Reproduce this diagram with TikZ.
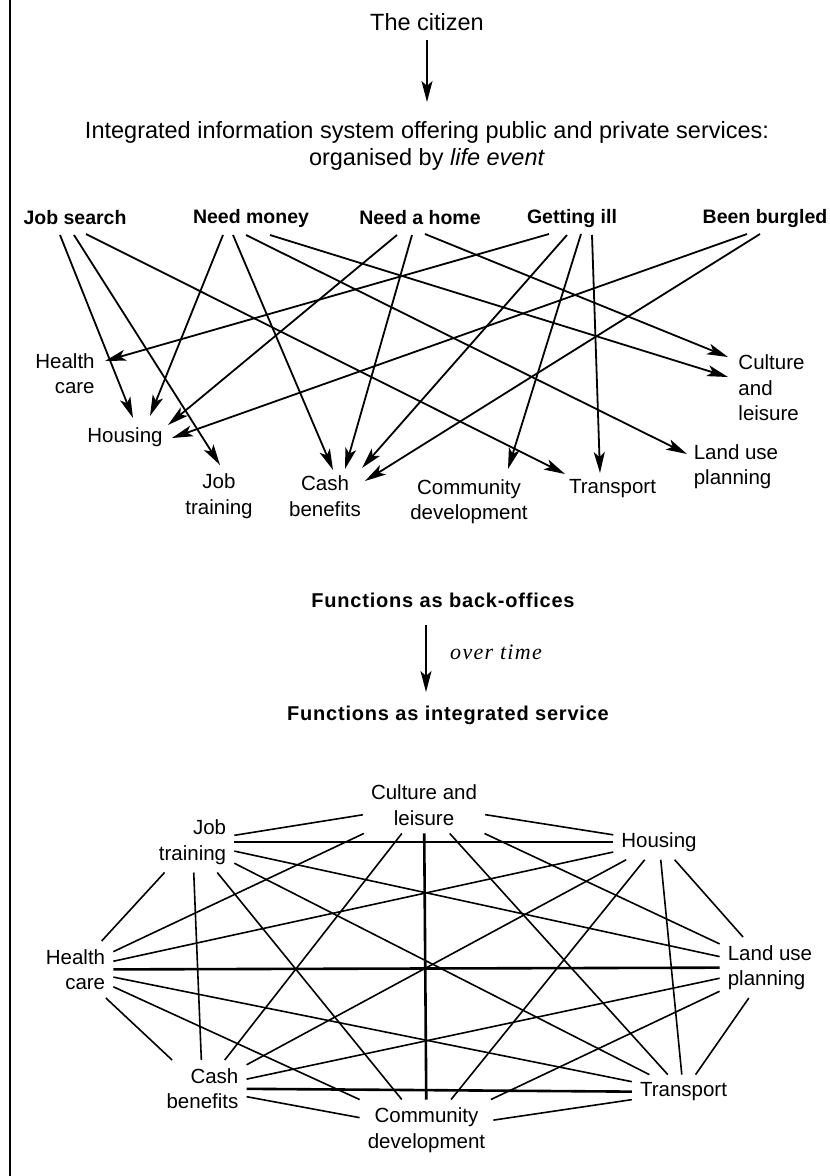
\documentclass[tikz,border=0pt]{standalone}
\usepackage{fontspec}
\setmainfont{Liberation Sans}
\newfontfamily\spacedsans[LetterSpace=4]{Liberation Sans}
\newfontfamily\spacedserif[LetterSpace=6]{Liberation Serif}
\usepackage{tikz}
\usetikzlibrary{arrows.meta,calc,positioning}

\tikzset{
  heading/.style={font=\fontsize{23.5}{27}\selectfont, align=center, inner sep=0pt},
  lifeevent/.style={font=\fontsize{19.5}{23}\selectfont\bfseries, inner sep=0pt},
  stage/.style={font=\fontsize{20}{24}\selectfont\spacedsans\bfseries, inner sep=0pt},
  service/.style={font=\fontsize{20.5}{25.5}\selectfont, inner sep=0pt},
  netservice/.style={service, inner sep=8pt},
  evarrow/.style={line width=1.8pt, -{Stealth[length=21pt,width=11pt,inset=5pt]}},
  link/.style={line width=1.6pt},
  mainlink/.style={line width=2.6pt},
}

\begin{document}
\begin{tikzpicture}[x=1pt,y=-1pt]
\useasboundingbox (0,0) rectangle (830,1176);
\draw[line width=2pt] (10,0) -- (10,1176);

% the citizen and the portal
\node[heading] (cit) at (427,22) {The citizen};
\node[heading] (iis) at (427,146) {Integrated information system offering public and private services:\\organised by \textit{life event}};
\draw[evarrow] ($(cit)+(0,18)$) -- ($(iis)+(0,-44)$);

% life events
\node[lifeevent] (js) at (75,218) {Job search};
\node[lifeevent] (nm) at (251,218) {Need money};
\node[lifeevent] (nh) at (420,218) {Need a home};
\node[lifeevent] (gi) at (572,218) {Getting ill};
\node[lifeevent] (bb) at (765,218) {Been burgled};

% functions reached from the life events
\node[service,align=right] (thc) at (65,373.5) {Health\\care};
\node[service] (tho) at (125,437) {Housing};
\node[service,align=center] (tjt) at (219,496) {Job\\training};
\node[service,align=center] (tcb) at (325,496) {Cash\\benefits};
\node[service,align=center] (tcd) at (469,501.5) {Community\\development};
\node[service] (ttr) at (612.5,489) {Transport};
\node[service,align=left] (tlu) at (736,466.5) {Land use\\planning};
\node[service,align=left] (tcl) at (771.5,388) {Culture\\and\\leisure};

\draw[evarrow] ($(js)+(-15,17)$) -- ($(tho)+(8,-19)$);
\draw[evarrow] ($(js)+(-1,17)$) -- ($(tjt)+(1,-31)$);
\draw[evarrow] ($(js)+(11,16)$) -- ($(ttr)+(-47.5,-15)$);
\draw[evarrow] ($(nm)+(-28,17)$) -- ($(tho)+(25,-21)$);
\draw[evarrow] ($(nm)+(-18,17)$) -- ($(tcb)+(8,-26)$);
\draw[evarrow] ($(nm)+(-5,17)$) -- ($(tlu)+(-49,-12.5)$);
\draw[evarrow] ($(nm)+(19,17)$) -- ($(tcl)+(-43.5,-11)$);
\draw[evarrow] ($(nh)+(-23,17)$) -- ($(tho)+(43,-12)$);
\draw[evarrow] ($(nh)+(-8,17)$) -- ($(tcb)+(20,-27)$);
\draw[evarrow] ($(nh)+(5,16)$) -- ($(tcl)+(-43.5,-31)$);
\draw[evarrow] ($(gi)+(-23,16)$) -- ($(thc)+(40,-12.5)$);
\draw[evarrow] ($(gi)+(-5,17)$) -- ($(tcb)+(37,-28)$);
\draw[evarrow] ($(gi)+(9,16)$) -- ($(tcd)+(39,-32.5)$);
\draw[evarrow] ($(gi)+(20,17)$) -- ($(ttr)+(-12.5,-16)$);
\draw[evarrow] ($(bb)+(-18,16)$) -- ($(tho)+(47,1)$);
\draw[evarrow] ($(bb)+(-5,16)$) -- ($(tcb)+(40,-15)$);

% back-offices to integrated service
\node[stage] (fbo) at (443,600) {Functions as back-offices};
\node[stage] (fis) at (448,715) {Functions as integrated service};
\draw[evarrow] ($(fbo)+(-17,25)$) -- ($(fis)+(-22,-23)$);
\node[anchor=west,font=\fontsize{22}{26}\selectfont\spacedserif\itshape,inner sep=0pt] (ovt) at (450,652) {over time};

% integrated network
\node[netservice,align=center] (cl) at (424,805) {Culture and\\leisure};
\node[netservice,align=right] (jt) at (192.5,842) {Job\\training};
\node[netservice] (ho) at (659,842) {Housing};
\node[netservice,align=right] (hc) at (75.5,969.5) {Health\\care};
\node[netservice,align=left] (lu) at (770,967.5) {Land use\\planning};
\node[netservice,align=right] (cb) at (202.5,1088.5) {Cash\\benefits};
\node[netservice] (tr) at (683.5,1092) {Transport};
\node[netservice,align=center] (cd) at (426.5,1130) {Community\\development};

\foreach \a/\b in {cl/jt,cl/ho,cl/hc,cl/cb,cl/tr,cl/lu,
                   jt/hc,jt/cb,jt/cd,jt/tr,jt/lu,
                   ho/hc,ho/cb,ho/cd,ho/tr,ho/lu,
                   hc/cb,hc/cd,hc/tr,
                   lu/cb,lu/cd,lu/tr,
                   cb/cd,tr/cd}
  \draw[link] (\a) -- (\b);
\foreach \a/\b in {jt/ho,hc/lu,cb/tr,cl/cd}
  \draw[mainlink] (\a) -- (\b);
\end{tikzpicture}
\end{document}
